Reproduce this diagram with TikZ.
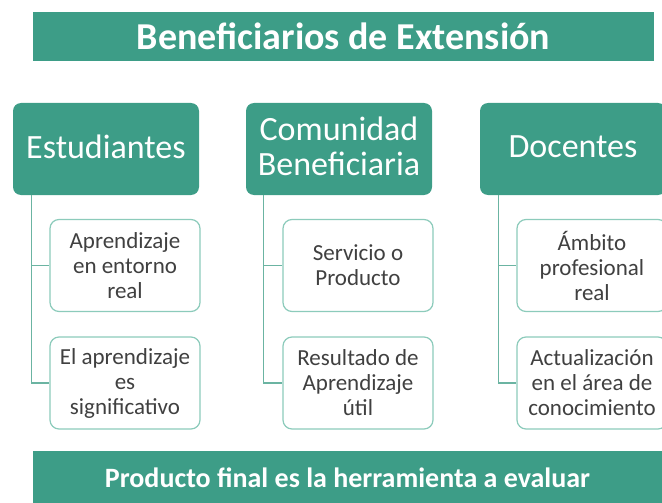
\documentclass[tikz,border=0pt]{standalone}
\usepackage{fontspec}
\setmainfont{Carlito}
\definecolor{teal1}{HTML}{3D9D87}
\definecolor{tealline}{HTML}{6BB4A2}
\definecolor{tealborder}{HTML}{8CCBBB}
\definecolor{txtgray}{HTML}{404040}
\tikzset{
  bar/.style={fill=teal1, draw=none, text=white, font=\bfseries, inner sep=0pt},
  hdr/.style={fill=teal1, draw=none, rounded corners=8pt, text=white, minimum width=186pt, minimum height=92pt, align=center, inner sep=0pt, font=\fontsize{34}{35}\selectfont},
  hdrtext/.style={text=white, align=center, inner sep=0pt, font=\fontsize{34}{35}\selectfont},
  child/.style={draw=tealborder, line width=1.2pt, fill=white, rounded corners=9pt, minimum width=150pt, minimum height=92pt, align=center, inner sep=0pt, text=txtgray, font=\fontsize{23}{25}\selectfont},
  conn/.style={draw=tealline, line width=1.3pt}
}
\begin{document}
\begin{tikzpicture}[x=1pt,y=-1pt]
\useasboundingbox (0,0) rectangle (662,503);
\node[bar, minimum width=621pt, minimum height=49pt, font=\bfseries\fontsize{38}{40}\selectfont] (title) at (343.5,36.5) {Beneficiarios de Extensión};
\node[bar, minimum width=629pt, minimum height=54pt, font=\bfseries\fontsize{28}{30}\selectfont] (bottom) at (347.5,478) {Producto final es la herramienta a evaluar};

\node[hdr] (est) at (106,149) {};
\node[hdr] (com) at (339,149) {};
\node[hdr] (doc) at (573,149) {};
\node[hdrtext] (estt) at (106,146.5) {Estudiantes};
\node[hdrtext] (comt) at (339,146) {Comunidad\\Beneficiaria};
\node[hdrtext] (doct) at (573,146.5) {Docentes};

\node[child] (e1) at (125,265.5) {Aprendizaje\\en entorno\\real};
\node[child] (e2) at (125,383) {El aprendizaje\\es\\significativo};
\node[child] (c1) at (358,265.5) {Servicio o\\Producto};
\node[child] (c2) at (358,383) {Resultado de\\Aprendizaje\\útil};
\node[child] (d1) at (592,265.5) {Ámbito\\profesional\\real};
\node[child] (d2) at (592,383) {Actualización\\en el área de\\conocimiento};

\draw[conn] ([xshift=19pt]est.south west) |- (e2.west);
\draw[conn] ([xshift=19pt]est.south west) |- (e1.west);
\draw[conn] ([xshift=18pt]com.south west) |- (c2.west);
\draw[conn] ([xshift=18pt]com.south west) |- (c1.west);
\draw[conn] ([xshift=19pt]doc.south west) |- (d2.west);
\draw[conn] ([xshift=19pt]doc.south west) |- (d1.west);
\end{tikzpicture}
\end{document}
